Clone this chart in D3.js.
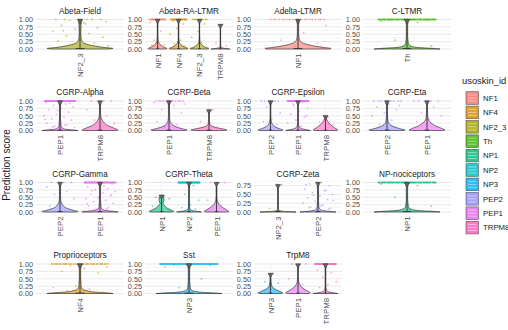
<!DOCTYPE html>
<html>
<head>
<meta charset="utf-8">
<script src="https://cdn.jsdelivr.net/npm/d3@7/dist/d3.min.js"></script>
<style>
  body { margin: 0; background: #fff; }
  svg { display: block; font-family: "Liberation Sans", Arial, sans-serif; }
</style>
</head>
<body>
<div id="chart"></div>
<script>
// ---- data ----
const idLevels = ["NF1", "NF4", "NF2_3", "Th", "NP1", "NP2", "NP3", "PEP2", "PEP1", "TRPM8"];
const idColors = ["#F8766D", "#D89000", "#A3A500", "#39B600", "#00BF7D", "#00BFC4", "#00B0F6", "#9590FF", "#E76BF3", "#FF62BC"];

const panelTitles = ["Abeta-Field", "Abeta-RA-LTMR", "Adelta-LTMR", "C-LTMR",
  "CGRP-Alpha", "CGRP-Beta", "CGRP-Epsilon", "CGRP-Eta",
  "CGRP-Gamma", "CGRP-Theta", "CGRP-Zeta", "NP-nociceptors",
  "Proprioceptors", "Sst", "TrpM8"];

const panelGroups = [["NF2_3"], ["NF1", "NF4", "NF2_3", "TRPM8"], ["NF1"], ["Th"],
  ["PEP1", "TRPM8"], ["PEP1", "TRPM8"], ["PEP2", "PEP1", "TRPM8"], ["PEP2", "PEP1"],
  ["PEP2", "PEP1"], ["NP1", "NP2", "PEP1"], ["NF2_3", "PEP2"], ["NP1"],
  ["NF4"], ["NP3"], ["NP3", "PEP1", "TRPM8"]];

// highest score per group (top of violin / outlier line)
const groupMax = [[1], [1, 1, 1, 0.83], [1], [1],
  [1, 1], [1, 0.7], [1, 1, 0.5], [1, 1],
  [1, 1], [0.57, 1, 1], [0.78, 0.84], [1],
  [1], [1], [0.68, 1, 1]];

// relative violin width at these score levels
const densityLevels = [0, 0.02, 0.05, 0.1, 0.15, 0.2, 0.3, 0.4, 0.5, 0.6, 0.7, 0.8, 0.9, 1.0];
const violinWidths = [
  [[0.85, 1.0, 0.75, 0.45, 0.25, 0.12, 0.05, 0.03, 0.025, 0.025, 0.03, 0.03, 0.04, 0.06]],
  [[0.9, 1.0, 0.8, 0.5, 0.3, 0.15, 0.06, 0.04, 0.03, 0.03, 0.03, 0.04, 0.05, 0.08],
   [0.9, 1.0, 0.75, 0.45, 0.25, 0.12, 0.05, 0.03, 0.03, 0.03, 0.03, 0.03, 0.04, 0.07],
   [0.9, 1.0, 0.7, 0.4, 0.22, 0.1, 0.05, 0.03, 0.02, 0.02, 0.02, 0.02, 0.03, 0.05],
   [1.0, 0.5, 0.12, 0.04, 0.03, 0.02, 0.02, 0.02, 0.02, 0.02, 0.02, 0.02, 0.02]],
  [[0.95, 1.0, 0.8, 0.5, 0.3, 0.15, 0.05, 0.03, 0.02, 0.02, 0.02, 0.02, 0.03, 0.05]],
  [[1.0, 0.8, 0.35, 0.12, 0.06, 0.04, 0.03, 0.02, 0.02, 0.02, 0.02, 0.02, 0.03, 0.08]],
  [[1.0, 0.7, 0.25, 0.1, 0.06, 0.05, 0.04, 0.03, 0.03, 0.03, 0.03, 0.03, 0.04, 0.15],
   [0.9, 1.0, 0.9, 0.7, 0.5, 0.35, 0.18, 0.08, 0.04, 0.03, 0.03, 0.03, 0.03, 0.03]],
  [[0.9, 1.0, 0.8, 0.5, 0.3, 0.18, 0.07, 0.04, 0.03, 0.03, 0.03, 0.03, 0.04, 0.05],
   [0.8, 1.0, 0.8, 0.4, 0.15, 0.06, 0.03, 0.02, 0.02, 0.02, 0.02]],
  [[0.9, 1.0, 0.8, 0.5, 0.3, 0.18, 0.07, 0.04, 0.03, 0.03, 0.03, 0.03, 0.04, 0.05],
   [1.0, 0.8, 0.4, 0.15, 0.08, 0.05, 0.03, 0.03, 0.03, 0.03, 0.03, 0.03, 0.04, 0.12],
   [0.85, 1.0, 0.9, 0.7, 0.55, 0.4, 0.2, 0.08, 0.02]],
  [[0.9, 1.0, 0.8, 0.5, 0.3, 0.17, 0.07, 0.04, 0.03, 0.03, 0.03, 0.03, 0.04, 0.05],
   [0.8, 1.0, 0.9, 0.7, 0.5, 0.35, 0.15, 0.06, 0.04, 0.03, 0.03, 0.03, 0.03, 0.04]],
  [[0.9, 1.0, 0.8, 0.5, 0.3, 0.2, 0.08, 0.04, 0.03, 0.03, 0.03, 0.03, 0.03, 0.04],
   [1.0, 0.8, 0.35, 0.12, 0.07, 0.05, 0.04, 0.03, 0.03, 0.03, 0.03, 0.03, 0.04, 0.12]],
  [[0.8, 1.0, 0.85, 0.6, 0.4, 0.28, 0.12, 0.2, 0.18, 0.05],
   [1.0, 0.7, 0.25, 0.1, 0.05, 0.04, 0.03, 0.03, 0.03, 0.03, 0.03, 0.03, 0.04, 0.15],
   [0.8, 1.0, 0.9, 0.7, 0.5, 0.33, 0.15, 0.06, 0.04, 0.03, 0.03, 0.03, 0.03, 0.04]],
  [[1.0, 0.3, 0.05, 0.02, 0.02, 0.02, 0.02, 0.02, 0.02, 0.02, 0.02, 0.02],
   [1.0, 0.6, 0.2, 0.08, 0.05, 0.04, 0.03, 0.03, 0.03, 0.03, 0.03, 0.03, 0.03]],
  [[1.0, 0.8, 0.35, 0.12, 0.06, 0.04, 0.03, 0.02, 0.02, 0.02, 0.02, 0.02, 0.03, 0.1]],
  [[1.0, 0.85, 0.45, 0.18, 0.08, 0.05, 0.03, 0.03, 0.02, 0.02, 0.02, 0.02, 0.03, 0.08]],
  [[1.0, 0.75, 0.3, 0.1, 0.05, 0.04, 0.03, 0.02, 0.02, 0.02, 0.02, 0.02, 0.03, 0.1]],
  [[0.85, 1.0, 0.85, 0.6, 0.35, 0.2, 0.08, 0.05, 0.04, 0.03, 0.02],
   [0.8, 1.0, 0.9, 0.7, 0.5, 0.35, 0.15, 0.06, 0.04, 0.03, 0.03, 0.03, 0.03, 0.04],
   [1.0, 0.7, 0.3, 0.1, 0.06, 0.04, 0.03, 0.03, 0.03, 0.03, 0.03, 0.03, 0.04, 0.15]]
];

// number of cells sitting at a score of 1.00
const bandCounts = [[6], [25, 30, 10, 0], [20], [80],
  [80, 3], [12, 0], [6, 60, 0], [8, 5],
  [4, 70], [0, 60, 3], [0, 0], [80],
  [40], [90], [0, 3, 50]];

// other scattered cell scores
const scatterValues = [
  [[0.97, 0.93, 0.88, 0.8, 0.72, 0.68, 0.6, 0.52, 0.45, 0.4, 0.33, 0.28, 0.2, 0.15, 0.1, 0.85, 0.62, 0.08]],
  [[0.9, 0.6, 0.3, 0.15, 0.05, 0.12], [0.95, 0.85, 0.7, 0.5, 0.3, 0.18, 0.1, 0.08], [0.85, 0.6, 0.4, 0.2], [0.83, 0.2, 0.1]],
  [[0.8, 0.55, 0.3, 0.2, 0.1]],
  [[0.95, 0.9, 0.3, 0.1, 0.05]],
  [[0.95, 0.9, 0.85, 0.8, 0.75, 0.7, 0.62, 0.55, 0.5, 0.45, 0.4, 0.35, 0.3, 0.25, 0.2, 0.15, 0.1, 0.08, 0.05, 0.92, 0.68, 0.38, 0.18, 0.12],
   [0.9, 0.7, 0.5, 0.35, 0.25, 0.15]],
  [[0.95, 0.85, 0.7, 0.6, 0.45, 0.3, 0.2, 0.12, 0.9], [0.7, 0.3]],
  [[0.8, 0.6, 0.4, 0.3, 0.2], [0.95, 0.85, 0.75, 0.65, 0.55, 0.45, 0.35, 0.25, 0.15, 0.9, 0.5, 0.3], [0.45, 0.3, 0.2]],
  [[0.9, 0.8, 0.7, 0.6, 0.5, 0.35, 0.2, 0.85, 0.65], [0.8, 0.6, 0.5, 0.4, 0.3]],
  [[0.85, 0.7, 0.6, 0.45, 0.3, 0.2],
   [0.95, 0.9, 0.85, 0.8, 0.75, 0.7, 0.65, 0.6, 0.55, 0.5, 0.45, 0.4, 0.35, 0.3, 0.25, 0.2, 0.15, 0.1, 0.05, 0.88, 0.72, 0.58, 0.42, 0.28, 0.12, 0.08]],
  [[0.55, 0.5, 0.45, 0.3, 0.2], [0.9, 0.6, 0.4, 0.25, 0.15, 0.1], [0.7, 0.4, 0.2]],
  [[0.78, 0.1],
   [0.84, 0.8, 0.75, 0.7, 0.65, 0.6, 0.55, 0.5, 0.45, 0.4, 0.35, 0.3, 0.25, 0.2, 0.15, 0.1, 0.05, 0.78, 0.62, 0.48, 0.33, 0.18, 0.12, 0.08, 0.03, 0.02]],
  [[0.95, 0.9, 0.5, 0.2, 0.1]],
  [[0.95, 0.9, 0.85, 0.75, 0.7, 0.25, 0.2, 0.15, 0.1, 0.05, 0.92]],
  [[0.97, 0.95, 0.93, 0.9, 0.5, 0.2]],
  [[0.68, 0.4, 0.35, 0.2], [0.65, 0.5, 0.3], [0.9, 0.8, 0.7, 0.55, 0.4, 0.3, 0.2]]
];

const yTicks = [0, 0.25, 0.5, 0.75, 1];
const yMinor = [0.125, 0.375, 0.625, 0.875];

// ---- layout ----
const W = 508, H = 330;
const colLeft = [36, 145, 254, 363];
const rowTop = [18, 99.5, 181, 262.5];
const pw = 88, ph = 32.5;
const font = '"Liberation Sans", Arial, sans-serif';

const color = d3.scaleOrdinal(idLevels, idColors);

const svg = d3.select('#chart').append('svg')
  .attr('width', W).attr('height', H)
  .attr('viewBox', `0 0 ${W} ${H}`);

// deterministic jitter (golden-ratio sequence), +-0.4 of a category step
const jitter = (i) => (((i + 1) * 0.6180339887) % 1 - 0.5) * 0.8;

panelTitles.forEach((title, p) => {
  const r = Math.floor(p / 4), c = p % 4;
  const left = colLeft[c], top = rowTop[r];
  const groups = panelGroups[p];
  const yMax = d3.max(groupMax[p]);

  const y = d3.scaleLinear().domain([-0.05 * yMax, 1.05 * yMax]).range([top + ph, top]);
  const x = d3.scalePoint().domain(groups).range([left, left + pw]).padding(0.6);
  const step = x.step();
  const inDomain = (v) => v >= y.domain()[0] && v <= y.domain()[1];

  const g = svg.append('g');

  // grid
  g.selectAll('line.minor').data(yMinor.filter(inDomain)).join('line')
    .attr('x1', left).attr('x2', left + pw)
    .attr('y1', (d) => y(d)).attr('y2', (d) => y(d))
    .attr('stroke', '#eeeeee').attr('stroke-width', 0.5);
  g.selectAll('line.major').data(yTicks.filter(inDomain)).join('line')
    .attr('x1', left).attr('x2', left + pw)
    .attr('y1', (d) => y(d)).attr('y2', (d) => y(d))
    .attr('stroke', '#dedede').attr('stroke-width', 0.7);
  g.selectAll('line.vgrid').data(groups).join('line')
    .attr('x1', (d) => x(d)).attr('x2', (d) => x(d))
    .attr('y1', top).attr('y2', top + ph)
    .attr('stroke', '#ececec').attr('stroke-width', 0.6);

  // title
  svg.append('text')
    .attr('x', left + pw / 2).attr('y', top - 4.5)
    .attr('text-anchor', 'middle')
    .style('font-size', '8.2px').style('fill', '#1a1a1a')
    .text(title);

  // y axis
  const yAxis = svg.append('g')
    .attr('transform', `translate(${left},0)`)
    .call(d3.axisLeft(y).tickValues(yTicks.filter(inDomain)).tickFormat(d3.format('.2f')).tickSize(0).tickPadding(3));
  yAxis.select('.domain').remove();
  yAxis.selectAll('text').style('font-size', '7.3px').style('fill', '#4d4d4d').style('font-family', font);

  // x axis (rotated labels)
  const xAxis = svg.append('g')
    .attr('transform', `translate(0,${top + ph})`)
    .call(d3.axisBottom(x).tickSize(0).tickPadding(0));
  xAxis.select('.domain').remove();
  xAxis.selectAll('text')
    .attr('transform', 'rotate(-90)')
    .attr('text-anchor', 'end')
    .attr('x', -3).attr('y', 0).attr('dy', '0.32em')
    .style('font-size', '7.8px').style('fill', '#4d4d4d').style('font-family', font);

  groups.forEach((grp, k) => {
    const cx = x(grp);
    const gmax = groupMax[p][k];
    const widths = violinWidths[p][k];
    const col = color(grp);
    const prof = widths.map((w, i) => ({ v: Math.min(densityLevels[i], gmax), w }));

    // violin
    const area = d3.area()
      .x0((d) => cx - d.w * 0.45 * step)
      .x1((d) => cx + d.w * 0.45 * step)
      .y((d) => y(d.v))
      .curve(d3.curveMonotoneY);
    g.append('path').datum(prof)
      .attr('d', area)
      .attr('fill', col).attr('fill-opacity', 0.6)
      .attr('stroke', '#222').attr('stroke-width', 0.6);

    // jittered cells
    const vals = d3.range(bandCounts[p][k]).map(() => 1).concat(scatterValues[p][k]);
    g.selectAll(null).data(vals).join('circle')
      .attr('cx', (d, i) => cx + jitter(i) * step)
      .attr('cy', (d) => y(d))
      .attr('r', 0.9)
      .attr('fill', col).attr('fill-opacity', 0.55);

    // outlier line / box
    g.append('line')
      .attr('x1', cx).attr('x2', cx)
      .attr('y1', y(0)).attr('y2', y(gmax))
      .attr('stroke', '#333').attr('stroke-width', 0.9);
    g.append('rect')
      .attr('x', cx - 0.06 * step).attr('width', 0.12 * step)
      .attr('y', y(0.03 * yMax)).attr('height', y(0) - y(0.03 * yMax))
      .attr('fill', '#333');
    g.append('path')
      .attr('d', d3.symbol(d3.symbolTriangle, 11)())
      .attr('transform', `translate(${cx},${y(gmax) + 1.3}) rotate(180)`)
      .attr('fill', '#666').attr('stroke', '#333').attr('stroke-width', 0.5);
  });
});

// y title
svg.append('text')
  .attr('transform', 'translate(10,165) rotate(-90)')
  .attr('text-anchor', 'middle')
  .style('font-size', '10px').style('fill', '#1a1a1a')
  .text('Prediction score');

// legend
const legend = svg.append('g');
legend.append('text')
  .attr('x', 462).attr('y', 84)
  .style('font-size', '9.4px').style('fill', '#1a1a1a')
  .text('usoskin_id');
const key = legend.selectAll('g.key').data(idLevels).join('g')
  .attr('transform', (d, i) => `translate(466,${98 + i * 14.4})`);
key.append('rect')
  .attr('x', 0).attr('y', -6.3).attr('width', 12.5).attr('height', 12.6)
  .attr('fill', (d) => color(d)).attr('fill-opacity', 0.85)
  .attr('stroke', '#555').attr('stroke-width', 0.6);
key.selectAll('line').data([-3, 0, 3]).join('line')
  .attr('x1', 2).attr('x2', 10.5)
  .attr('y1', (d) => d).attr('y2', (d) => d)
  .attr('stroke', '#fff').attr('stroke-opacity', 0.6).attr('stroke-width', 0.8);
key.append('text')
  .attr('x', 17).attr('y', 0).attr('dy', '0.35em')
  .style('font-size', '7.8px').style('fill', '#1a1a1a')
  .text((d) => d);
</script>
</body>
</html>
